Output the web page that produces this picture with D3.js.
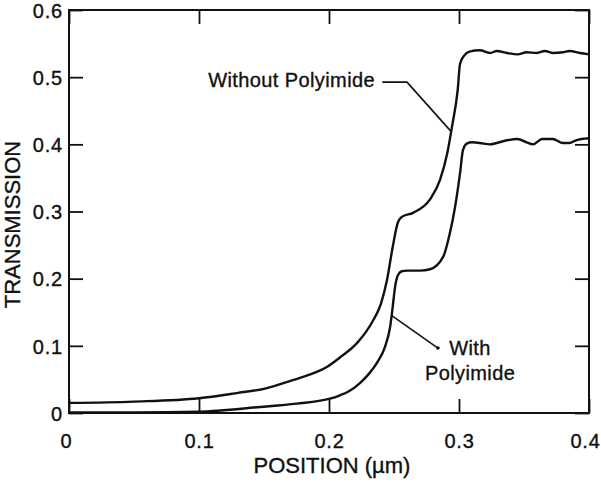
<!DOCTYPE html>
<html>
<head>
<meta charset="utf-8">
<script src="https://cdn.jsdelivr.net/npm/d3@7"></script>
<style>
  body { margin: 0; background: #fff; }
  svg text { font-family: "Liberation Sans", Arial, sans-serif; fill: #111; stroke: #111; stroke-width: 0.35px; }
</style>
</head>
<body>
<div id="chart"></div>
<script>
// tick values
const xTicks = [0, 0.1, 0.2, 0.3, 0.4];
const yTicks = [0, 0.1, 0.2, 0.3, 0.4, 0.5, 0.6];

// transmission without polyimide
const withoutX = [0, 0.05, 0.1, 0.13, 0.15, 0.172, 0.185, 0.198, 0.21, 0.2215, 0.234, 0.24, 0.2446, 0.249, 0.253, 0.256, 0.2646, 0.2777, 0.2854, 0.291, 0.2946, 0.299, 0.3008, 0.304, 0.308, 0.316, 0.324, 0.329, 0.337, 0.345, 0.352, 0.36, 0.366, 0.372, 0.38, 0.385, 0.393, 0.4];
const withoutY = [0.015, 0.017, 0.022, 0.030, 0.036, 0.049, 0.057, 0.068, 0.085, 0.104, 0.138, 0.163, 0.198, 0.247, 0.284, 0.292, 0.298, 0.318, 0.347, 0.387, 0.426, 0.481, 0.520, 0.532, 0.538, 0.540, 0.536, 0.539, 0.536, 0.534, 0.537, 0.536, 0.539, 0.536, 0.537, 0.539, 0.536, 0.534];

// transmission with polyimide
const withX = [0, 0.05, 0.1, 0.147, 0.175, 0.2, 0.208, 0.215, 0.224, 0.231, 0.237, 0.243, 0.247, 0.249, 0.2508, 0.253, 0.256, 0.26, 0.27, 0.2777, 0.2877, 0.293, 0.297, 0.3008, 0.303, 0.306, 0.31, 0.316, 0.324, 0.329, 0.337, 0.345, 0.352, 0.357, 0.364, 0.372, 0.38, 0.385, 0.39, 0.4];
const withY = [0.001, 0.001, 0.002, 0.009, 0.014, 0.021, 0.026, 0.032, 0.045, 0.059, 0.075, 0.098, 0.128, 0.158, 0.1875, 0.205, 0.211, 0.212, 0.212, 0.214, 0.232, 0.268, 0.307, 0.357, 0.391, 0.401, 0.403, 0.402, 0.400, 0.402, 0.406, 0.408, 0.403, 0.400, 0.408, 0.408, 0.402, 0.402, 0.406, 0.409];

// callouts in data units
const withoutLabel = { text: ["Without Polyimide"], x: 0.2354, y: 0.485, leader: [[0.241, 0.4926], [0.26, 0.4926], [0.2935, 0.42]] };
const withLabel = { text: ["With", "Polyimide"], x: 0.3085, y: 0.0863, leader: [[0.2838, 0.0967], [0.2483, 0.145]] };

const render = () => {
  const width = 601, height = 482;
  const margin = { top: 10, right: 12, bottom: 69, left: 69 };
  const w = width - margin.left - margin.right;
  const h = height - margin.top - margin.bottom;

  const svg = d3.select("#chart").append("svg")
    .attr("width", width).attr("height", height);
  const g = svg.append("g").attr("transform", `translate(${margin.left},${margin.top})`);

  const x = d3.scaleLinear().domain([0, 0.4]).range([0, w]);
  const y = d3.scaleLinear().domain([0, 0.6]).range([h, 0]);

  const tickLen = 14;
  const fmt = (d) => (d === 0 ? "0" : d3.format(".1f")(d));

  // axes with inward ticks
  const styleAxis = (sel) => {
    sel.select(".domain").remove();
    sel.selectAll(".tick line").attr("stroke", "#111").attr("stroke-width", 1.8);
    sel.selectAll(".tick text").style("font-size", "20px").style("letter-spacing", "0.8px").attr("fill", "#111");
  };
  g.append("g").attr("transform", `translate(0,${h})`)
    .call(d3.axisBottom(x).tickValues(xTicks).tickFormat(fmt).tickSizeInner(-tickLen).tickSizeOuter(0).tickPadding(21))
    .call(styleAxis)
    .selectAll(".tick text")
    .attr("dx", (d) => (d === 0.4 ? -4 : d === 0 ? -3 : 0));
  g.append("g")
    .call(d3.axisLeft(y).tickValues(yTicks).tickFormat(fmt).tickSizeInner(-tickLen).tickSizeOuter(0).tickPadding(6))
    .call(styleAxis)
    .selectAll(".tick text").attr("dy", "0.36em");
  g.append("g")
    .call(d3.axisTop(x).tickValues(xTicks).tickFormat("").tickSizeInner(-tickLen).tickSizeOuter(0))
    .call(styleAxis);
  g.append("g").attr("transform", `translate(${w},0)`)
    .call(d3.axisRight(y).tickValues(yTicks).tickFormat("").tickSizeInner(-tickLen).tickSizeOuter(0))
    .call(styleAxis);

  // frame
  g.append("rect").attr("width", w).attr("height", h)
    .attr("fill", "none").attr("stroke", "#111").attr("stroke-width", 2);

  // curves
  const line = d3.line().x((d) => x(d[0])).y((d) => y(d[1])).curve(d3.curveMonotoneX);
  [[withoutX, withoutY], [withX, withY]].forEach(([xs, ys]) => {
    g.append("path")
      .datum(xs.map((v, i) => [v, ys[i]]))
      .attr("fill", "none").attr("stroke", "#111").attr("stroke-width", 2.4)
      .attr("stroke-linejoin", "round")
      .attr("d", line);
  });

  // callouts
  const leader = d3.line().x((d) => x(d[0])).y((d) => y(d[1]));
  g.append("path").attr("d", leader(withoutLabel.leader))
    .attr("fill", "none").attr("stroke", "#111").attr("stroke-width", 1.6);
  g.append("text").attr("x", x(withoutLabel.x)).attr("y", y(withoutLabel.y))
    .attr("text-anchor", "end").style("font-size", "20px").style("letter-spacing", "0.4px")
    .text(withoutLabel.text[0]);

  g.append("path").attr("d", leader(withLabel.leader))
    .attr("fill", "none").attr("stroke", "#111").attr("stroke-width", 1.6);
  g.append("circle").attr("cx", x(withLabel.leader[0][0])).attr("cy", y(withLabel.leader[0][1]))
    .attr("r", 1.8).attr("fill", "#111");
  withLabel.text.forEach((t, i) => {
    g.append("text").attr("x", x(withLabel.x)).attr("y", y(withLabel.y) + i * 25)
      .attr("text-anchor", "middle").style("font-size", "20px").style("letter-spacing", "0.4px")
      .text(t);
  });

  // axis titles
  svg.append("text")
    .attr("x", margin.left + w / 2 + 3).attr("y", 473)
    .attr("text-anchor", "middle").style("font-size", "22px")
    .text("POSITION (µm)");
  svg.append("text")
    .attr("transform", `translate(20,${margin.top + h / 2 + 13}) rotate(-90)`)
    .attr("text-anchor", "middle").style("font-size", "22px")
    .text("TRANSMISSION");
};

render();
</script>
</body>
</html>
